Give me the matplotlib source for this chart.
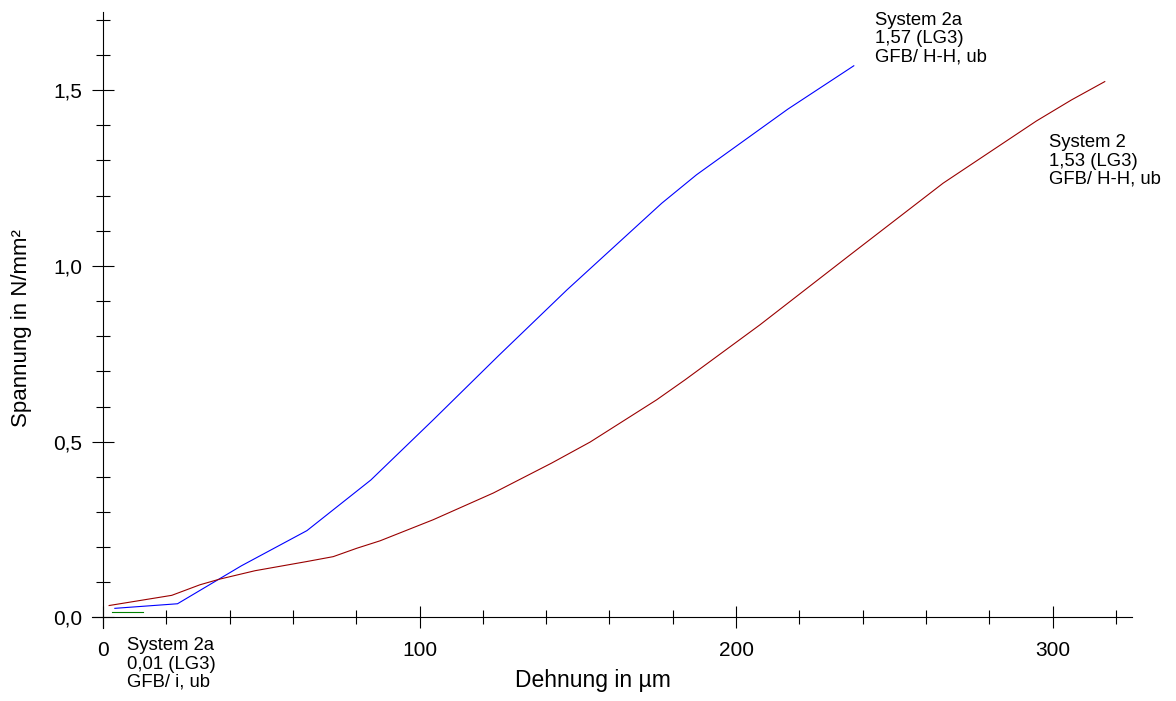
import matplotlib.pyplot as plt
from matplotlib.ticker import MultipleLocator, FuncFormatter

plt.rcParams['font.family'] = ['Liberation Sans', 'DejaVu Sans']

# System 2a (H-H) - blue
dehnung_2a = [3.7, 23.5, 43.7, 64.4, 84.6, 104.3, 125.0, 146.6, 176.5, 187.5, 216.4, 237.2]
spannung_2a = [0.026, 0.039, 0.147, 0.247, 0.391, 0.562, 0.745, 0.932, 1.178, 1.259, 1.446, 1.569]

# System 2 (H-H) - dark red
dehnung_2 = [1.9, 21.7, 30.6, 36.8, 48.0, 64.3, 72.7, 80.2, 87.5, 104.3, 123.3, 141.7,
             153.9, 174.9, 183.9, 207.5, 236.0, 265.4, 294.9, 306.0, 316.5]
spannung_2 = [0.034, 0.063, 0.093, 0.109, 0.133, 0.159, 0.173, 0.197, 0.218, 0.278, 0.354, 0.439,
              0.499, 0.619, 0.676, 0.832, 1.031, 1.235, 1.412, 1.472, 1.524]

# System 2a (i) - green
dehnung_2a_i = [2.7, 12.7]
spannung_2a_i = [0.015, 0.015]

labels = ["System 2a\n1,57 (LG3)\nGFB/ H-H, ub",
          "System 2\n1,53 (LG3)\nGFB/ H-H, ub",
          "System 2a\n0,01 (LG3)\nGFB/ i, ub"]

fig = plt.figure(figsize=(11.76, 7.01), dpi=100)
ax = fig.add_axes([0.078, 0.1041, 0.8843, 0.8788])

ax.plot(dehnung_2a, spannung_2a, color='#0000ff', lw=0.8)
ax.plot(dehnung_2, spannung_2, color='#990000', lw=0.8)
ax.plot(dehnung_2a_i, spannung_2a_i, color='#008000', lw=0.8)

ax.set_xlim(-3.6, 325)
ax.set_ylim(-0.03, 1.722)

for s in ['top', 'right']:
    ax.spines[s].set_visible(False)
ax.spines['left'].set_position(('data', 0))
ax.spines['bottom'].set_position(('data', 0))
for s in ['left', 'bottom']:
    ax.spines[s].set_linewidth(0.8)

ax.xaxis.set_major_locator(MultipleLocator(100))
ax.xaxis.set_minor_locator(MultipleLocator(20))
ax.yaxis.set_major_locator(MultipleLocator(0.5))
ax.yaxis.set_minor_locator(MultipleLocator(0.1))
ax.xaxis.set_major_formatter(FuncFormatter(lambda v, p: f"{v:.0f}"))
ax.yaxis.set_major_formatter(FuncFormatter(lambda v, p: f"{v:.1f}".replace('.', ',')))

ax.tick_params(which='major', direction='inout', length=16, width=0.8, labelsize=15)
ax.tick_params(axis='x', which='major', pad=9)
ax.tick_params(axis='y', which='major', pad=7)
ax.tick_params(which='minor', direction='inout', length=10.5, width=0.8)

ax.set_xlabel("Dehnung in µm", fontsize=16.5)
ax.set_ylabel("Spannung in N/mm²", fontsize=16)
ax.xaxis.set_label_coords(0.482, -0.0844)
ax.xaxis.label.set_va('center')
ax.yaxis.set_label_coords(-0.0673, 0.487)
ax.yaxis.label.set_va('center')

txt = dict(textcoords='offset points', va='top', ha='left', fontsize=13.3, linespacing=1.1)
ax.annotate(labels[0], xy=(dehnung_2a[-1], spannung_2a[-1]), xytext=(15, 39), **txt)
ax.annotate(labels[1], xy=(dehnung_2[-1], spannung_2[-1]), xytext=(-40, -38), **txt)
ax.annotate(labels[2], xy=(dehnung_2a_i[-1], spannung_2a_i[-1]), xytext=(-12, -18), **txt)

fig.savefig("out.png", dpi=100)
